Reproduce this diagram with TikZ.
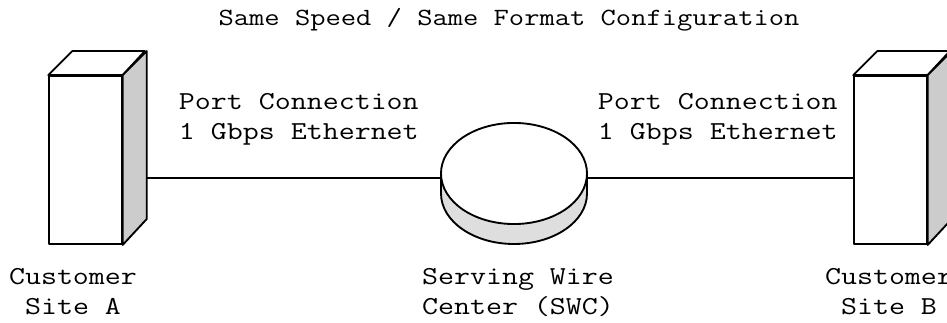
\documentclass[tikz,border=0pt]{standalone}
\usepackage{fontspec}
\usetikzlibrary{shapes.geometric}
\setmonofont[FakeStretch=1.2]{Latin Modern Mono}
\tikzset{
lbl/.style={inner sep=0pt,font=\ttfamily\fontsize{19.4pt}{22.5pt}\selectfont,align=center},
sitebox/.style={draw,fill=white,minimum width=54.4pt,minimum height=126pt,inner sep=0pt},
sideface/.style={draw,fill=black!20},
swcdisk/.style={draw,ellipse,fill=white,minimum width=109.5pt,minimum height=75.8pt,inner sep=0pt}
}
\begin{document}
\begin{tikzpicture}[x=0.75pt,y=-0.75pt,line width=1.4pt,line join=round]
\useasboundingbox (0,0) rectangle (947,323);
\node[lbl,anchor=base,font=\ttfamily\fontsize{18.55pt}{22.5pt}\selectfont] (title) at (509,26) {Same Speed / Same Format Configuration};
%sites
\node[sitebox] (siteA) at (85.5,160) {};
\node[sitebox] (siteB) at (890.5,160) {};
\foreach \s in {siteA,siteB}{
\draw[fill=white](\s.north west)--++(24,-24)--++(72.5,0)--(\s.north east)--cycle;
\draw[sideface](\s.north east)--++(24,-24)--++(0,168)--(\s.south east)--cycle;
}
%switch
\draw[fill=black!13](441,193.5)--(441,173.5)--(587,173.5)--(587,193.5) arc[start angle=0,end angle=-180,x radius=73,y radius=-50.5];
\coordinate (sideA) at (145.5,178);
\draw (sideA)--(441,178);
\draw (587,178)--(siteB.west|-sideA);
\node[swcdisk] (swc) at (514,173.5) {};
%labels
\node[lbl,anchor=base west,align=left] (portA) at (178,140) {Port Connection\\1 Gbps Ethernet};
\node[lbl,anchor=base west,align=left] (portB) at (597,140) {Port Connection\\1 Gbps Ethernet};
\node[lbl,anchor=base] (nameA) at (73,315) {Customer\\Site A};
\node[lbl,anchor=base] (nameS) at (518,315) {Serving Wire\\Center (SWC)};
\node[lbl,anchor=base] (nameB) at (889,315) {Customer\\Site B};
\end{tikzpicture}
\end{document}
